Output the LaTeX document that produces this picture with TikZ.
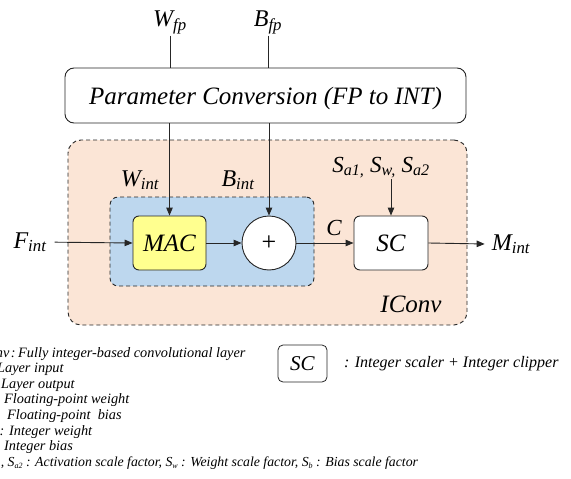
\documentclass[tikz,border=0pt]{standalone}
\usepackage{fontspec}
\setmainfont{Liberation Serif}
\usetikzlibrary{arrows.meta}
\newcommand\lo[1]{\textsubscript{#1}}
\newcommand\tinysub[1]{\raisebox{-2pt}{\fontsize{8}{8}\selectfont #1}}
\definecolor{convfill}{HTML}{FBE5D6}
\definecolor{corefill}{HTML}{BDD7EE}
\definecolor{macfill}{HTML}{FFFF8F}
\definecolor{edge}{HTML}{262626}
\begin{document}
\begin{tikzpicture}[x=1pt,y=-1pt,
  fs/.style={font=\fontsize{#1}{#1}\selectfont\itshape},
  lbl/.style={fs=24, inner sep=1pt, anchor=base},
  wire/.style={draw=edge, line width=0.9pt},
  arr/.style={wire, -{Triangle[length=8pt,width=6.5pt]}},
  block/.style={draw=edge, line width=0.9pt, rounded corners=6pt, fs=25},
  region/.style={draw=edge, line width=0.9pt, dash pattern=on 4pt off 3pt},
  legend/.style={fs=14.3, inner sep=0pt, anchor=base west}]
\useasboundingbox (0,0) rectangle (571,479);
\clip (0,0) rectangle (571,479);

% integer convolution layer and its integer core
\node[region, fill=convfill, rounded corners=13pt, minimum width=399, minimum height=185] (iconv) at (267.5,232.5) {};
\node[region, fill=corefill, rounded corners=8pt, minimum width=204, minimum height=89] (core) at (212,241.5) {};

% parameter conversion
\node[block, rounded corners=9pt, fill=white, minimum width=401, minimum height=55, text depth=0pt] (param) at (265.5,95.5) {Parameter Conversion (FP to INT)};
\node[lbl] (wfp) at (170,27) {W\lo{fp}};
\node[lbl] (bfp) at (268,27) {B\lo{fp}};

% datapath blocks
\node[block, fill=macfill, minimum width=73, minimum height=54] (mac) at (169.5,243) {MAC};
\node[draw=edge, line width=0.9pt, circle, fill=white, minimum size=54, inner sep=0pt, font=\fontsize{26}{26}\selectfont] (add) at (269,243) {+};
\node[block, fill=white, minimum width=74, minimum height=54] (sc) at (391,243) {SC};

% labels
\node[lbl] (fint) at (30,248) {F\lo{int}};
\node[lbl] (mint) at (511,250) {M\lo{int}};
\node[lbl] (wint) at (140,186) {W\lo{int}};
\node[lbl] (bint) at (238,186) {B\lo{int}};
\node[lbl, fs=23] (cl) at (334,235) {C};
\node[lbl, fs=23] (scale) at (381,172) {S\lo{a1,} S\lo{w,} S\lo{a2}};
\node[lbl, fs=25] (iname) at (411,312) {IConv};

% connectors
\draw[wire] (wfp.south) -- (wfp.south |- param.north);
\draw[wire] (bfp.south) -- (bfp.south |- param.north);
\draw[arr] (mac.north |- param.south) -- (mac.north);
\draw[arr] (add.north |- param.south) -- (add.north);
\draw[arr, shorten <=7pt] (fint.east) -- (mac.west);
\draw[arr] (mac.east) -- (add.west);
\draw[arr] (add.east) -- (sc.west);
\draw[arr] (sc.north |- scale.south) -- (sc.north);
\draw[arr, shorten >=6pt] (sc.east) -- (mint.west);

% legend
\node[draw=edge, line width=0.8pt, rounded corners=5pt, minimum width=49, minimum height=37, fs=21, inner sep=0pt] (legsc) at (302.5,363.5) {SC};
\node[fs=16, inner sep=0pt, anchor=base west] (legsctxt) at (344,367) {: Integer scaler + Integer clipper};

\node[legend] (l1) at (18,357) {\llap{IConv\hspace{1.5pt}:\hspace{2.5pt}}Fully integer-based convolutional layer};
\node[legend] (l2) at (-3,372.6) {\llap{F\lo{int} : }Layer input};
\node[legend] (l3) at (1,388.2) {\llap{M\lo{int} : }Layer output};
\node[legend] (l4) at (4,403.8) {\llap{W\lo{fp} : }Floating-point weight};
\node[legend] (l5) at (7,419.4) {\llap{B\lo{fp} :\ \ }Floating-point\ \ bias};
\node[legend] (l6) at (9,435) {\llap{W\lo{int} : }Integer weight};
\node[legend] (l7) at (4,450.6) {\llap{B\lo{int} : }Integer bias};
\node[legend, fs=13.8] (l8) at (35,466.2) {\llap{S\tinysub{a1}, S\tinysub{a2} : }Activation scale factor, S\tinysub{w} : Weight scale factor, S\tinysub{b} : Bias scale factor};
\end{tikzpicture}
\end{document}
